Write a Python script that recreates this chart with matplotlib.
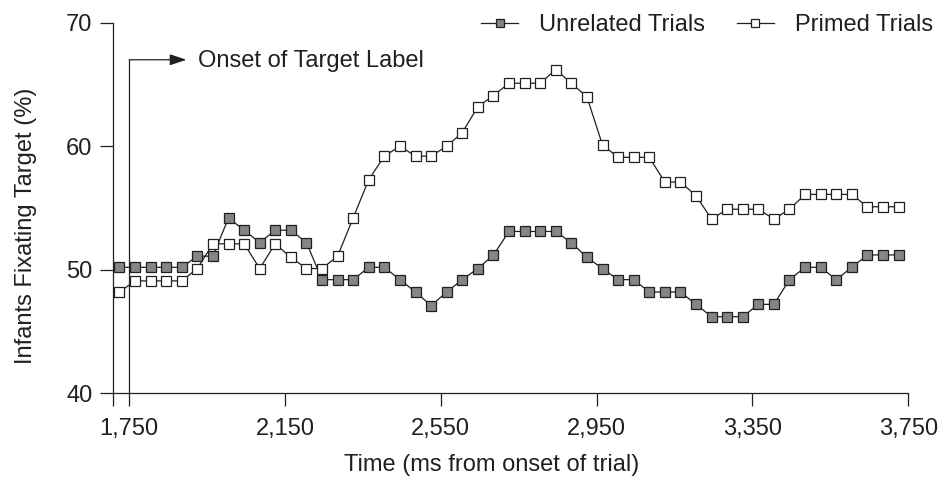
import matplotlib

matplotlib.use("Agg")
import matplotlib.pyplot as plt
import numpy as np

plt.rcParams["font.family"] = ["Liberation Sans", "DejaVu Sans"]

INK = "#231f20"
FILL = "#858585"

# Time bins, one sample every 40 ms
time_ms = np.arange(1725, 3726, 40)

# Percentage of infants fixating the target
unrelated = [50.2, 50.2, 50.2, 50.2, 50.2, 51.1, 51.1, 54.2, 53.2, 52.2,
             53.2, 53.2, 52.2, 49.2, 49.2, 49.2, 50.2, 50.2, 49.2, 48.2,
             47.1, 48.2, 49.2, 50.1, 51.2, 53.1, 53.1, 53.1, 53.1, 52.2,
             51.0, 50.1, 49.2, 49.2, 48.2, 48.2, 48.2, 47.2, 46.2, 46.2,
             46.2, 47.2, 47.2, 49.2, 50.2, 50.2, 49.2, 50.2, 51.2, 51.2,
             51.2]
primed = [48.2, 49.1, 49.1, 49.1, 49.1, 50.1, 52.1, 52.1, 52.1, 50.1,
          52.1, 51.0, 50.1, 50.1, 51.1, 54.2, 57.3, 59.2, 60.0, 59.2,
          59.2, 60.0, 61.1, 63.2, 64.1, 65.1, 65.1, 65.1, 66.2, 65.1,
          64.0, 60.1, 59.1, 59.1, 59.1, 57.1, 57.1, 56.0, 54.1, 54.9,
          54.9, 54.9, 54.1, 54.9, 56.1, 56.1, 56.1, 56.1, 55.1, 55.1,
          55.1]

x_ticks = [1750, 2150, 2550, 2950, 3350, 3750]
x_labels = ["1,750", "2,150", "2,550", "2,950", "3,350", "3,750"]
y_ticks = [40, 50, 60, 70]

ONSET = 1750
X_LEFT = 1707.65

fig = plt.figure(figsize=(9.4, 4.8), dpi=100)
ax = fig.add_axes([112.7 / 940, 86.7 / 480, 795.6 / 940, 370.6 / 480])

line_kw = dict(color=INK, lw=0.9, marker="s", markersize=6.7,
               markeredgewidth=0.9, markeredgecolor=INK)
ax.plot(time_ms, unrelated, markerfacecolor=FILL, label="Unrelated Trials", **line_kw)
ax.plot(time_ms, primed, markerfacecolor="white", label="Primed Trials", **line_kw)

ax.set_xlim(X_LEFT, 3750)
ax.set_ylim(40, 70)

# left tick has no label: it just carries the y axis a little below the x axis
ax.set_xticks([X_LEFT] + x_ticks)
ax.set_xticklabels([""] + x_labels)
ax.set_yticks(y_ticks)

for side in ("top", "right"):
    ax.spines[side].set_visible(False)
for side in ("left", "bottom"):
    ax.spines[side].set_linewidth(0.9)
    ax.spines[side].set_color(INK)

ax.tick_params(axis="both", direction="out", length=9.5, width=0.9,
               color=INK, labelcolor=INK, labelsize=17)
ax.tick_params(axis="x", pad=8)
ax.tick_params(axis="y", pad=5)

ax.set_xlabel("Time (ms from onset of trial)", fontsize=17, color=INK)
ax.set_ylabel("Infants Fixating Target (%)", fontsize=17, color=INK)
ax.xaxis.set_label_coords(0.476, -0.165)
ax.yaxis.set_label_coords(-0.095, 0.451)

# onset marker: vertical line, then an arrow pointing at the note
ax.plot([ONSET, ONSET], [40, 67], color=INK, lw=0.9, clip_on=False)
ax.annotate("", xy=(1897, 67), xytext=(ONSET, 67),
            arrowprops=dict(arrowstyle="-|>,head_length=0.6,head_width=0.2",
                            color=INK, lw=0.9, shrinkA=0, shrinkB=0,
                            mutation_scale=17))
ax.text(1926, 66.9, "Onset of Target Label", fontsize=17, color=INK,
        ha="left", va="center")

ax.legend(ncol=2, loc="upper right", bbox_to_anchor=(933 / 940, 1 - 14 / 480),
          bbox_transform=fig.transFigure, frameon=False, fontsize=17,
          labelcolor=INK, handlelength=1.55, handletextpad=0.9,
          columnspacing=1.35, borderpad=0, borderaxespad=0, markerscale=0.8)

fig.savefig("out.png", dpi=100)
